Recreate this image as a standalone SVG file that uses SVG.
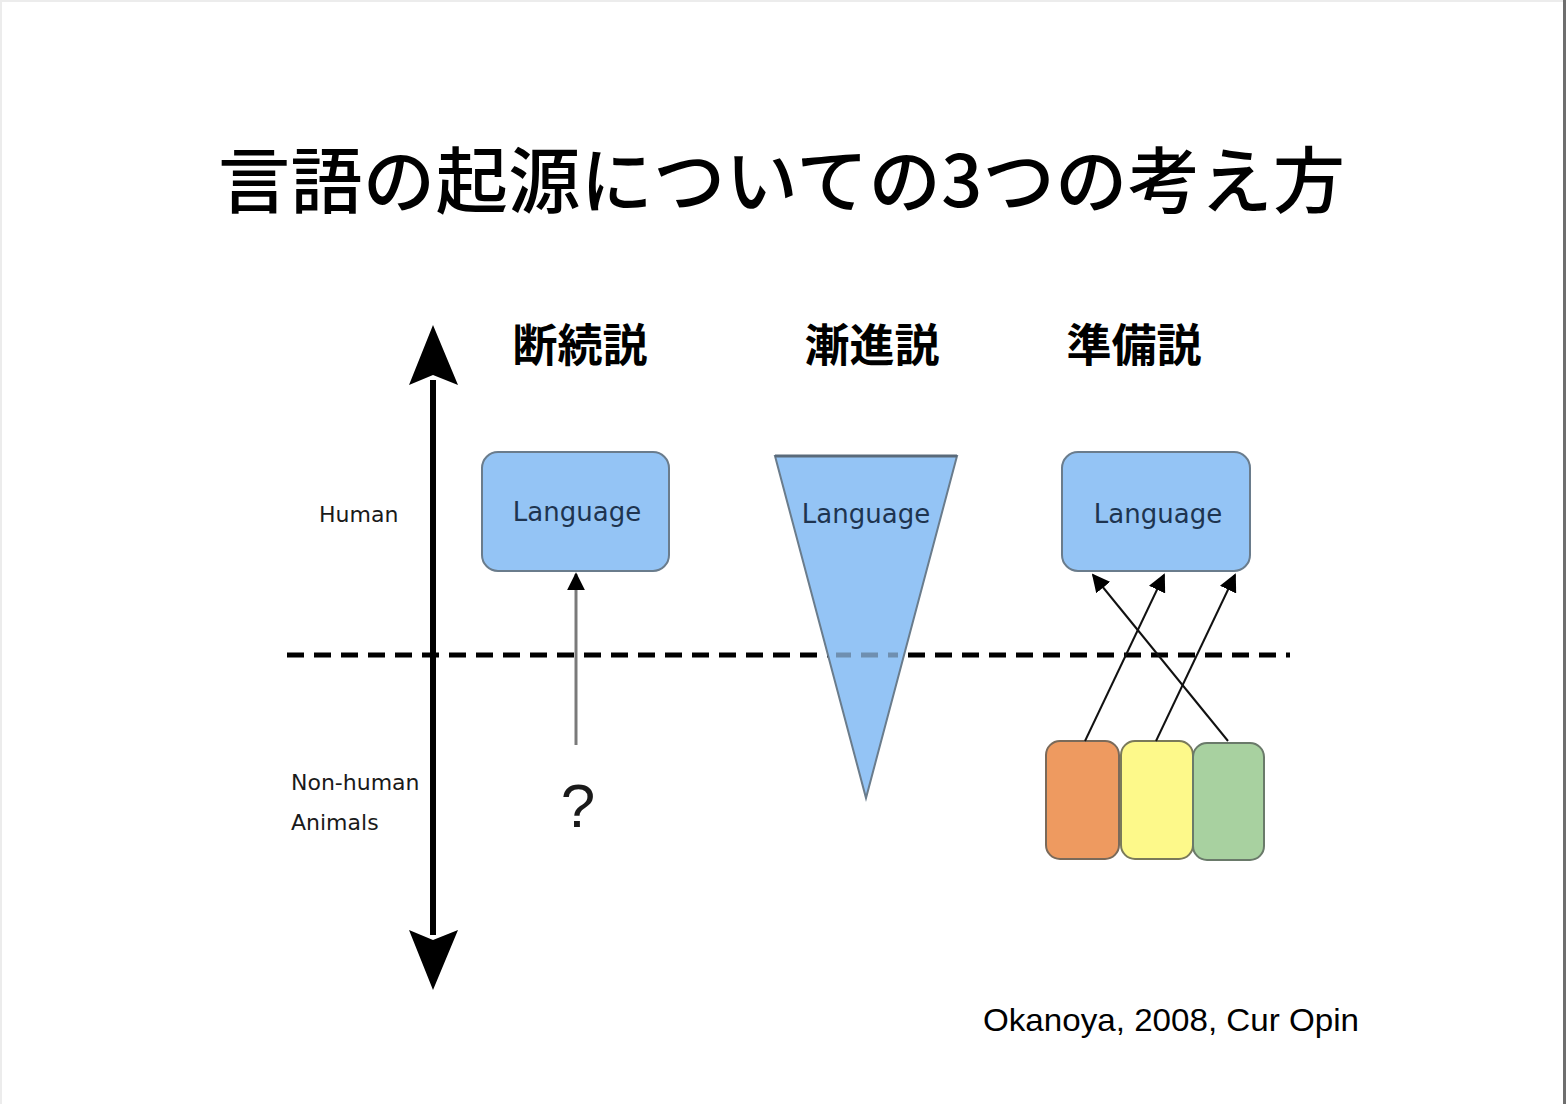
<svg xmlns="http://www.w3.org/2000/svg" width="1566" height="1104" viewBox="0 0 1566 1104">
<defs>
<style>
.jp{font-family:"Noto Sans CJK JP","Noto Sans",sans-serif;fill:#000}
.lbl{font-family:"DejaVu Sans","Liberation Sans",sans-serif;fill:#1a1a1a}
.lang{font-family:"DejaVu Sans","Liberation Sans",sans-serif;fill:#1e3450;font-size:26px}
.box{fill:#94c4f5;stroke:#6a7c8c;stroke-width:2}
.thin{stroke:#111;stroke-width:2;fill:none}
</style>
<marker id="ah2" viewBox="0 0 10 10" refX="9" refY="5" markerWidth="18" markerHeight="18" markerUnits="userSpaceOnUse" orient="auto">
<path d="M0,0 L10,5 L0,10 z" fill="#000"/>
</marker>
</defs>
<rect x="0" y="0" width="1566" height="1104" fill="#ececec"/>
<rect x="2" y="2" width="1561" height="1102" fill="#ffffff"/>
<rect x="1563" y="0" width="3" height="1104" fill="#6e6e6e"/>

<text class="jp" x="218" y="207" font-size="72" font-weight="500" textLength="1127" lengthAdjust="spacing">言語の起源についての3つの考え方</text>

<g id="headings">
<text class="jp" x="580" y="362" font-size="45" font-weight="700" text-anchor="middle">断続説</text>
<text class="jp" x="872" y="362" font-size="45" font-weight="700" text-anchor="middle">漸進説</text>
<text class="jp" x="1134" y="362" font-size="45" font-weight="700" text-anchor="middle">準備説</text>
</g>

<g id="axis">
<line x1="433" y1="380" x2="433" y2="935" stroke="#000" stroke-width="6"/>
<polygon points="433,325 458,385 433,375 409,385" fill="#000"/>
<polygon points="433,990 458,930 433,940 409,930" fill="#000"/>
<text class="lbl" x="319" y="522" font-size="22">Human</text>
<text class="lbl" x="291" y="790" font-size="22">Non-human</text>
<text class="lbl" x="291" y="830" font-size="22">Animals</text>
</g>

<g id="divider">
<line x1="287" y1="655" x2="1290" y2="655" stroke="#000" stroke-width="5" stroke-dasharray="17 10"/>
</g>

<g id="col1">
<rect class="box" x="482" y="452" width="187" height="119" rx="16"/>
<text class="lang" x="577" y="521" text-anchor="middle">Language</text>
<text x="578" y="827" font-family="Liberation Sans, Arial, sans-serif" font-size="62" fill="#1a1a1a" text-anchor="middle">?</text>
</g>

<g id="col2">
<polygon points="775,456 957,456 866,798" fill="#94c4f5" stroke="#6a7c8c" stroke-width="2"/>
<line x1="775" y1="456" x2="957" y2="456" stroke="#5a6a7a" stroke-width="3"/>
<line x1="836" y1="655" x2="898" y2="655" stroke="#6f8fb0" stroke-width="5" stroke-dasharray="17 10" stroke-dashoffset="2"/>
<text class="lang" x="866" y="523" text-anchor="middle">Language</text>
</g>

<g id="col3">
<rect class="box" x="1062" y="452" width="188" height="119" rx="16"/>
<text class="lang" x="1158" y="523" text-anchor="middle">Language</text>
<rect x="1046" y="741" width="73" height="118" rx="14" fill="#ee9a60" stroke="#7a6a5a" stroke-width="2"/>
<rect x="1121" y="741" width="72" height="118" rx="14" fill="#fdf98a" stroke="#7a7a5a" stroke-width="2"/>
<rect x="1193" y="743" width="71" height="117" rx="14" fill="#a8d1a0" stroke="#6a7a6a" stroke-width="2"/>
</g>

<g id="connectors">
<line x1="576" y1="745" x2="576" y2="574" stroke="#7a7a7a" stroke-width="3" marker-end="url(#ah2)"/>
<line class="thin" x1="1085" y1="741" x2="1164" y2="575" marker-end="url(#ah2)"/>
<line class="thin" x1="1156" y1="741" x2="1235" y2="575" marker-end="url(#ah2)"/>
<line class="thin" x1="1228" y1="741" x2="1093" y2="575" marker-end="url(#ah2)"/>
</g>

<text x="983" y="1031" font-family="Liberation Sans, Arial, sans-serif" font-size="32" fill="#000" textLength="376" lengthAdjust="spacingAndGlyphs">Okanoya, 2008, Cur Opin</text>
</svg>
